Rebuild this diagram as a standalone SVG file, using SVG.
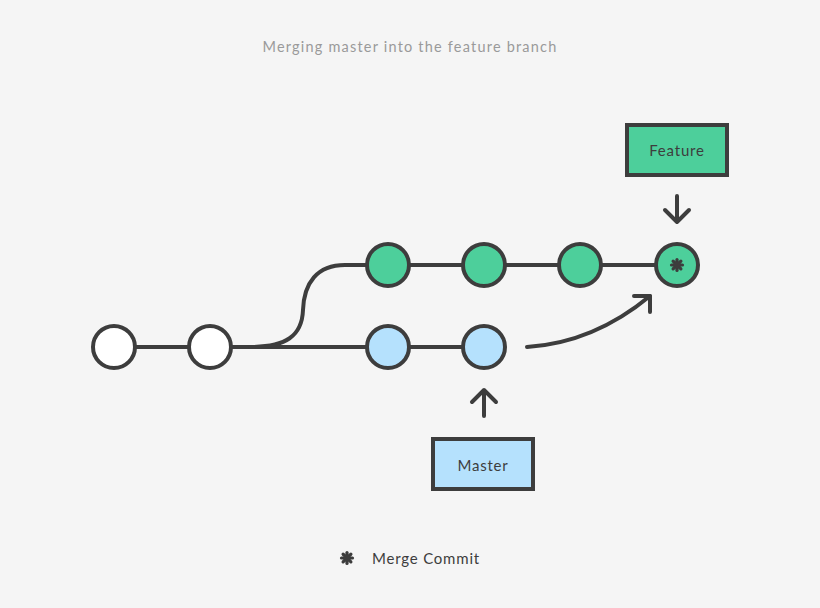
<svg xmlns="http://www.w3.org/2000/svg" width="820" height="608" viewBox="0 0 820 608">
<defs>
<style>
.bg{fill:#f5f5f5}
.ln{fill:none;stroke:#3d3d3d;stroke-width:4;stroke-linecap:round;stroke-linejoin:round}
.c{stroke:#3d3d3d;stroke-width:4}
.w{fill:#ffffff}
.g{fill:#4dcf9b}
.b{fill:#b5e1fd}
.lbl{font-family:Lato,"Open Sans",sans-serif;font-size:15px;fill:#3d3d3d;letter-spacing:0.8px}
.title{font-family:Lato,"Open Sans",sans-serif;font-size:14.5px;fill:#9a9a9a;letter-spacing:1.2px}
</style>
<g id="star">
<g stroke="#3d3d3d" stroke-width="3.2" stroke-linecap="round">
<line x1="0" y1="-5.5" x2="0" y2="5.5"/>
<line x1="-5.5" y1="0" x2="5.5" y2="0"/>
<line x1="-3.9" y1="-3.9" x2="3.9" y2="3.9"/>
<line x1="-3.9" y1="3.9" x2="3.9" y2="-3.9"/>
</g>
<circle r="3.4" fill="#3d3d3d"/>
</g>
</defs>
<rect class="bg" width="820" height="608"/>
<text class="title" x="410" y="52" text-anchor="middle">Merging master into the feature branch</text>
<g id="connectors">
<line class="ln" x1="135" y1="347" x2="189" y2="347"/>
<line class="ln" x1="231" y1="347" x2="367" y2="347"/>
<path class="ln" d="M250 347 C286 347 302 336 303 310 C304 283 317 265 345 265 L367 265"/>
<line class="ln" x1="409" y1="265" x2="463" y2="265"/>
<line class="ln" x1="505" y1="265" x2="559" y2="265"/>
<line class="ln" x1="601" y1="265" x2="656" y2="265"/>
<line class="ln" x1="409" y1="347" x2="463" y2="347"/>
<path class="ln" d="M527 347 C575 344 615 325 650 296"/>
<path class="ln" d="M634 296 L650 296 L650 312"/>
<path class="ln" d="M677 196 L677 222 M665 210 L677 222 L689 210"/>
<path class="ln" d="M484 416 L484 390 M472 402 L484 390 L496 402"/>
</g>
<g id="c1"><circle class="c w" cx="114" cy="347" r="21"/></g>
<g id="c2"><circle class="c w" cx="210" cy="347" r="21"/></g>
<g id="f1"><circle class="c g" cx="388" cy="265" r="21"/></g>
<g id="f2"><circle class="c g" cx="484" cy="265" r="21"/></g>
<g id="f3"><circle class="c g" cx="580" cy="265" r="21"/></g>
<g id="fm"><circle class="c g" cx="677" cy="265" r="21"/><use href="#star" x="677" y="265"/></g>
<g id="m1"><circle class="c b" cx="388" cy="347" r="21"/></g>
<g id="m2"><circle class="c b" cx="484" cy="347" r="21"/></g>
<g id="feature"><rect class="c g" x="627" y="125" width="100" height="50"/><text class="lbl" x="677" y="155.5" text-anchor="middle">Feature</text></g>
<g id="master"><rect class="c b" x="433" y="439" width="100" height="50"/><text class="lbl" x="483" y="470.5" text-anchor="middle">Master</text></g>
<g id="legend"><use href="#star" x="347" y="558"/><text class="lbl" x="372" y="563.5">Merge Commit</text></g>
</svg>
